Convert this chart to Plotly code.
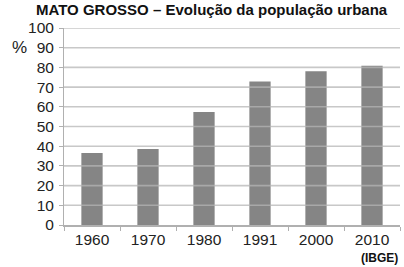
import plotly.graph_objects as go

years = ["1960", "1970", "1980", "1991", "2000", "2010"]
urban_pct = [36.6, 38.6, 57.4, 72.9, 78.1, 80.8]
y_ticks = [0, 10, 20, 30, 40, 50, 60, 70, 80, 90, 100]

fig = go.Figure()
fig.add_trace(go.Bar(x=years, y=urban_pct, marker=dict(color="#858585", line=dict(width=0)),
                     width=0.38))

grid_shapes = [dict(type="line", xref="paper", x0=0, x1=1, yref="y", y0=t, y1=t,
                    line=dict(color="rgba(181,181,181,0.74)", width=1.6), layer="above")
               for t in y_ticks if t > 0]

fig.update_layout(
    width=404, height=267,
    margin=dict(l=64, r=4, t=28, b=42),
    paper_bgcolor="white", plot_bgcolor="white",
    showlegend=False,
    font=dict(family="Arial, Liberation Sans, sans-serif", color="#222", size=15),
    shapes=grid_shapes,
    annotations=[
        dict(text="<b>MATO GROSSO – Evolução da população urbana</b>", xref="paper", yref="paper",
             x=0.44, y=1, yshift=29, yanchor="top", xanchor="center", showarrow=False,
             font=dict(size=15, color="#111")),
        dict(text="%", xref="paper", yref="paper", x=0, xshift=-54, y=0.9, xanchor="left",
             yanchor="middle", showarrow=False, font=dict(size=17, color="#222")),
        dict(text="<b>(IBGE)</b>", xref="paper", yref="paper", x=1, y=0, yshift=-33,
             xanchor="right", yanchor="middle", showarrow=False, font=dict(size=12, color="#111")),
    ],
)
fig.update_yaxes(range=[0, 100], tickvals=y_ticks, showgrid=False, showline=True,
                 linecolor="#b0b0b0", linewidth=1, ticks="outside", ticklen=4,
                 tickcolor="#b0b0b0", zeroline=False, fixedrange=True,
                 tickfont=dict(size=15.5, color="#222"), ticklabelstandoff=2)
fig.update_xaxes(showline=True, linecolor="#b0b0b0", linewidth=1.5, ticks="outside",
                 tickson="boundaries", ticklen=4, tickcolor="#b0b0b0", showgrid=False,
                 tickfont=dict(size=15.5, color="#222"), fixedrange=True)

fig.write_html("out.html")
